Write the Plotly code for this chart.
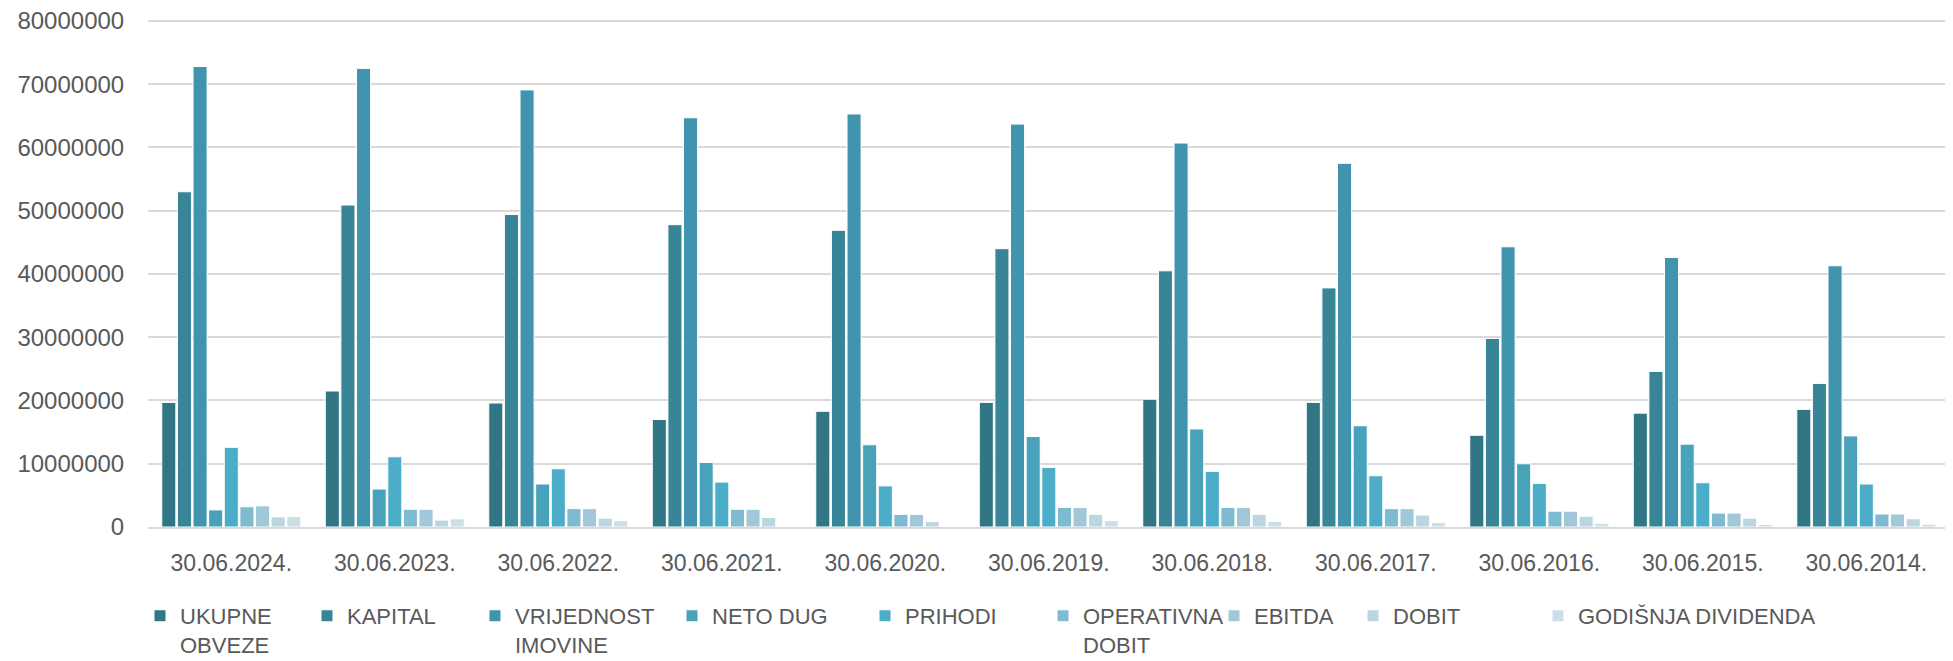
import plotly.graph_objects as go

categories = ["30.06.2024.", "30.06.2023.", "30.06.2022.", "30.06.2021.", "30.06.2020.",
              "30.06.2019.", "30.06.2018.", "30.06.2017.", "30.06.2016.", "30.06.2015.",
              "30.06.2014."]

ukupne_obveze = [19700000, 21500000, 19600000, 17000000, 18300000, 19700000, 20200000, 19700000, 14500000, 18000000, 18600000]
kapital = [53000000, 50900000, 49400000, 47800000, 46900000, 44000000, 40500000, 37800000, 29800000, 24600000, 22700000]
vrijednost_imovine = [72800000, 72500000, 69100000, 64700000, 65300000, 63700000, 60700000, 57500000, 44300000, 42600000, 41300000]
neto_dug = [2700000, 6000000, 6800000, 10200000, 13000000, 14300000, 15500000, 16000000, 10000000, 13100000, 14400000]
prihodi = [12600000, 11100000, 9200000, 7100000, 6500000, 9400000, 8800000, 8100000, 6900000, 7000000, 6800000]
operativna_dobit = [3200000, 2800000, 2900000, 2800000, 2000000, 3100000, 3100000, 2900000, 2500000, 2200000, 2050000]
ebitda = [3350000, 2800000, 2900000, 2800000, 2000000, 3100000, 3100000, 2900000, 2500000, 2200000, 2050000]
dobit = [1600000, 1100000, 1400000, 1500000, 850000, 2000000, 2000000, 1900000, 1700000, 1400000, 1300000]
godisnja_dividenda = [1650000, 1300000, 1000000, 0, 0, 1000000, 900000, 700000, 600000, 400000, 450000]

series_names = ["UKUPNE<br>OBVEZE", "KAPITAL", "VRIJEDNOST<br>IMOVINE", "NETO DUG", "PRIHODI",
                "OPERATIVNA<br>DOBIT", "EBITDA", "DOBIT", "GODIŠNJA DIVIDENDA"]
series_values = [ukupne_obveze, kapital, vrijednost_imovine, neto_dug, prihodi,
                 operativna_dobit, ebitda, dobit, godisnja_dividenda]
colors = ["#317685", "#388598", "#4194ad", "#48a2ba", "#4badc7",
          "#7fbbd0", "#a0c8d8", "#b9d6e1", "#cbdfe7"]

# legend entry x positions (fraction of figure width), one legend per series
legend_x = [0.06787, 0.15373, 0.24010, 0.34139, 0.44062, 0.53213, 0.62005, 0.69152, 0.78663]

font_family = "Liberation Sans, Arial, sans-serif"
legend_font = dict(family=font_family, size=22, color="#595959")

fig = go.Figure()
layout_legends = {}
for i, (name, vals, col) in enumerate(zip(series_names, series_values, colors)):
    lid = "legend" if i == 0 else f"legend{i + 1}"
    fig.add_trace(go.Bar(
        x=categories, y=vals, name=name, legend=lid,
        marker=dict(color=col, line=dict(color="white", width=1)),
    ))
    layout_legends[lid] = dict(
        orientation="h", xref="container", yref="container",
        x=legend_x[i], xanchor="left", y=0.1011, yanchor="top",
        font=legend_font, valign="top", bgcolor="rgba(0,0,0,0)",
    )

fig.update_layout(
    width=1945, height=653,
    barmode="group", bargap=0.14, bargroupgap=0.1,
    paper_bgcolor="white", plot_bgcolor="white",
    margin=dict(l=140, r=7, t=10, b=134, autoexpand=False),
    font=dict(family=font_family, size=23, color="#595959"),
    showlegend=True,
    xaxis=dict(
        range=[-0.5095, 10.4874],
        showgrid=False, showline=True, linecolor="#d9d9d9", linewidth=2,
        ticks="outside", ticklen=14, tickcolor="rgba(0,0,0,0)",
        tickfont=dict(size=23, color="#595959"),
    ),
    yaxis=dict(
        range=[0, 80470000], tick0=0, dtick=10000000, tickformat="d",
        showgrid=True, gridcolor="#d9d9d9", gridwidth=2,
        zeroline=False, showline=False,
        ticks="outside", ticklen=18, tickcolor="rgba(0,0,0,0)",
        tickfont=dict(size=24, color="#595959"),
        ticklabeloverflow="allow",
    ),
    **layout_legends,
)

fig.write_html("out.html")
